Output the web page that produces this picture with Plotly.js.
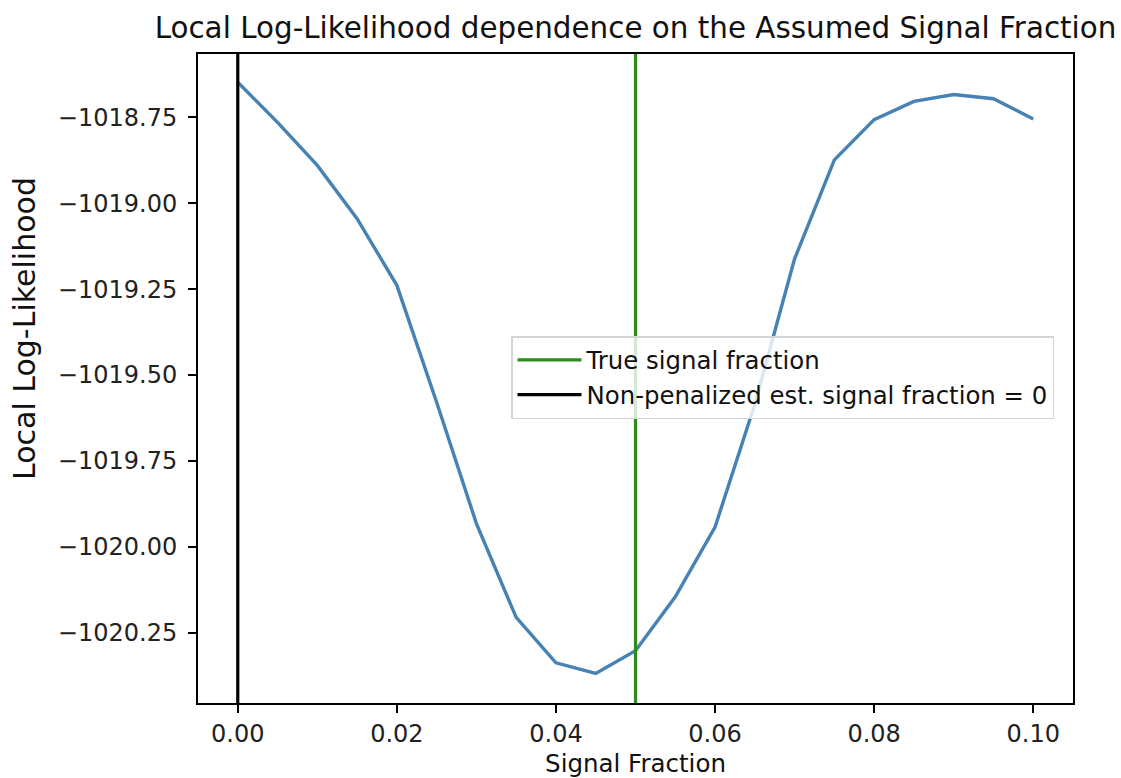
<!DOCTYPE html>
<html>
<head>
<meta charset="utf-8">
<script src="https://cdn.plot.ly/plotly-3.0.1.min.js"></script>
<style>
  html, body { margin: 0; padding: 0; background: #ffffff; }
  #chart { width: 1121px; height: 778px; }
</style>
</head>
<body>
<div id="chart"></div>
<script>
// Assumed signal fraction grid and the local log-likelihood at each value
const signalFraction = [0.000, 0.005, 0.010, 0.015, 0.020, 0.025, 0.030, 0.035, 0.040, 0.045,
                        0.050, 0.055, 0.060, 0.065, 0.070, 0.075, 0.080, 0.085, 0.090, 0.095, 0.100];
const localLogLik = [-1018.648, -1018.765, -1018.890, -1019.045, -1019.239, -1019.579, -1019.932,
                     -1020.205, -1020.337, -1020.368, -1020.302, -1020.145, -1019.942, -1019.585,
                     -1019.162, -1018.874, -1018.757, -1018.704, -1018.684, -1018.696, -1018.755];

// Reference fractions drawn as vertical lines
const trueFraction = 0.05;
const estimatedFraction = 0.0;

// Tick labels
const xTickVals = [0.00, 0.02, 0.04, 0.06, 0.08, 0.10];
const xTickText = ["0.00", "0.02", "0.04", "0.06", "0.08", "0.10"];
const yTickVals = [-1018.75, -1019.00, -1019.25, -1019.50, -1019.75, -1020.00, -1020.25];
const yTickText = ["\u22121018.75", "\u22121019.00", "\u22121019.25", "\u22121019.50",
                   "\u22121019.75", "\u22121020.00", "\u22121020.25"];

const xRange = [-0.005, 0.105];
const yRange = [-1020.454, -1018.566];

const FONT = "DejaVu Sans, Liberation Sans, sans-serif";
const W = 1121, H = 778;
const M = { l: 198, r: 48, t: 54, b: 75 };

const traces = [
  {
    x: signalFraction, y: localLogLik, type: "scatter", mode: "lines",
    line: { color: "#4682b4", width: 3.4 }, showlegend: false, hoverinfo: "x+y"
  },
  {
    x: [trueFraction, trueFraction], y: yRange, type: "scatter", mode: "lines",
    name: "True signal fraction",
    line: { color: "#2e8b1e", width: 3.2 }
  },
  {
    x: [estimatedFraction, estimatedFraction], y: yRange, type: "scatter", mode: "lines",
    name: "Non-penalized est. signal fraction = 0",
    line: { color: "#000000", width: 3.2 }
  }
];

const axisCommon = {
  showgrid: false, zeroline: false,
  showline: true, mirror: true, linecolor: "#000000", linewidth: 2,
  ticks: "outside", ticklen: 8, tickwidth: 2, tickcolor: "#000000",
  tickfont: { family: FONT, size: 24, color: "#222222" },
  fixedrange: true
};

const layout = {
  width: W, height: H,
  margin: M,
  paper_bgcolor: "#ffffff", plot_bgcolor: "#ffffff",
  title: {
    text: "Local Log-Likelihood dependence on the Assumed Signal Fraction",
    font: { family: FONT, size: 29.4, color: "#111111" },
    x: 0.5, xref: "paper", xanchor: "center",
    y: 1 - 28 / H, yref: "container", yanchor: "middle"
  },
  xaxis: Object.assign({}, axisCommon, {
    range: xRange, tickmode: "array", tickvals: xTickVals, ticktext: xTickText,
    ticklabelstandoff: 0,
    title: { text: "Signal Fraction", font: { family: FONT, size: 24.5, color: "#111111" }, standoff: 10 }
  }),
  yaxis: Object.assign({}, axisCommon, {
    range: yRange, tickmode: "array", tickvals: yTickVals, ticktext: yTickText,
    ticklabelstandoff: 6
  }),
  annotations: [
    {
      text: "Local Log-Likelihood", textangle: -90,
      xref: "paper", yref: "paper",
      x: (24 - M.l) / (W - M.l - M.r), y: (H - M.b - 329) / (H - M.t - M.b),
      xanchor: "center", yanchor: "middle", showarrow: false,
      font: { family: FONT, size: 30, color: "#111111" }
    }
  ],
  legend: {
    x: (511 - M.l) / (W - M.l - M.r), y: (H - M.b - 336) / (H - M.t - M.b),
    xanchor: "left", yanchor: "top",
    bgcolor: "rgba(255,255,255,0.8)", bordercolor: "#d4d4d4", borderwidth: 1.5,
    font: { family: FONT, size: 24.4, color: "#111111" },
    itemwidth: 64, tracegroupgap: 0
  },
  showlegend: true
};

Plotly.newPlot("chart", traces, layout, { displayModeBar: false, staticPlot: true });
</script>
</body>
</html>
